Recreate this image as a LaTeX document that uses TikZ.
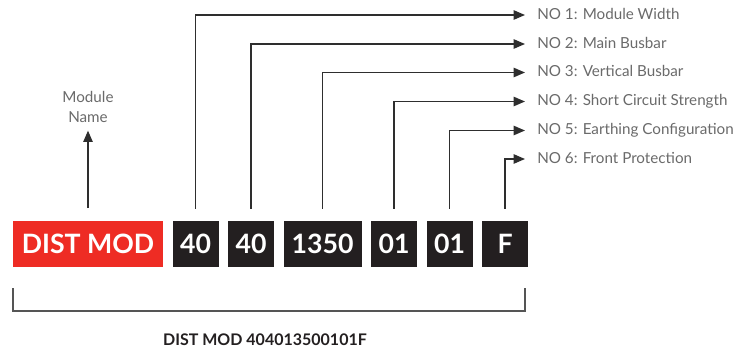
\documentclass[tikz,border=0pt]{standalone}
\usepackage{fontspec}
\setmainfont{Lato}
\usetikzlibrary{positioning,arrows.meta}
\definecolor{codered}{HTML}{EE2C24}
\definecolor{codeblk}{HTML}{231F20}
\definecolor{lblgray}{HTML}{6A6A6A}
\definecolor{lngray}{HTML}{2E2E2E}
\tikzset{blk/.style={fill=codeblk,text=white,font=\fontsize{20}{22}\selectfont\bfseries,minimum height=34.5pt,minimum width=34.5pt,inner sep=0pt},
  redblk/.style={blk,fill=codered,minimum width=112.5pt},
  lbl/.style={anchor=west,text=lblgray,font=\fontsize{11.4}{13}\selectfont,inner sep=0pt,text height=8pt,text depth=2pt},
  arr/.style={draw=lngray,line width=1.1pt,-{Triangle[length=8.5pt,width=7pt]}}}
\begin{document}
\begin{tikzpicture}[x=0.75pt,y=-0.75pt]
  \useasboundingbox (0,0) rectangle (756,351);
  % code boxes
  \node[redblk] (name) at (88,244) {DIST MOD};
  \node[blk, right=6.75pt of name] (c1) {40};
  \node[blk, right=6.75pt of c1] (c2) {40};
  \node[blk, right=6.75pt of c2, minimum width=58.5pt] (c3) {1350};
  \node[blk, right=6.75pt of c3] (c4) {01};
  \node[blk, right=6.75pt of c4] (c5) {01};
  \node[blk, right=6.75pt of c5] (c6) {F};
  % labels
  \node[lbl] (l1) at (537,15) {NO 1: Module Width};
  \node[lbl] (l2) at (537,44) {NO 2: Main Busbar};
  \node[lbl] (l3) at (537,72.5) {NO 3: Vertical Busbar};
  \node[lbl] (l4) at (537,101.5) {NO 4: Short Circuit Strength};
  \node[lbl] (l5) at (537,130.5) {NO 5: Earthing Configuration};
  \node[lbl] (l6) at (537,159) {NO 6: Front Protection};
  \node[align=center,text=lblgray,font=\fontsize{11.4}{14.5}\selectfont,inner sep=6pt] (mname) at (88,107) {Module\\Name};
  % arrows
  \foreach \i in {1,...,6}
    \draw[arr, shorten <=9pt, shorten >=9pt] (c\i.north) |- (l\i.west);
  \draw[arr, shorten <=9.5pt] (name.north) -- (mname.south);
  % bracket
  \draw[lblgray!80!black, line width=0.8pt] (13,288) |- (525,311) -- (525,288);
  \node[text=codeblk,font=\fontsize{12}{14}\selectfont\bfseries] (full) at (265,340) {DIST MOD 404013500101F};
\end{tikzpicture}
\end{document}
